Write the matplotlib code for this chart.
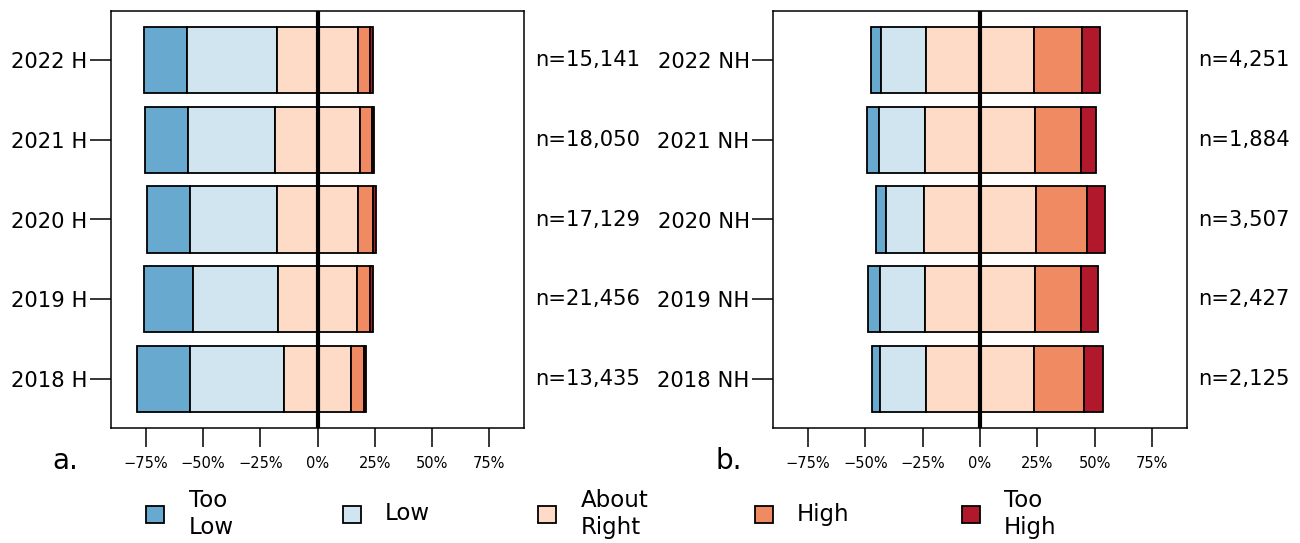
import matplotlib
matplotlib.use("Agg")
import matplotlib.pyplot as plt
from matplotlib.patches import Rectangle
from matplotlib.ticker import FuncFormatter

# Survey responses (percent of respondents), rows ordered top to bottom
years_h = ["2022 H", "2021 H", "2020 H", "2019 H", "2018 H"]
too_low_h = [19.1, 18.5, 18.7, 21.2, 23.1]
low_h = [39.3, 38.3, 37.9, 37.5, 41.3]
about_right_h = [35.1, 36.8, 35.6, 34.2, 29.1]
high_h = [5.5, 5.3, 6.6, 5.9, 5.6]
too_high_h = [1.1, 1.0, 1.0, 1.4, 1.1]
n_h = [15141, 18050, 17129, 21456, 13435]

years_nh = ["2022 NH", "2021 NH", "2020 NH", "2019 NH", "2018 NH"]
too_low_nh = [4.7, 5.3, 4.2, 5.5, 3.5]
low_nh = [19.5, 19.8, 16.6, 19.4, 20.0]
about_right_nh = [47.0, 48.4, 49.2, 48.2, 47.0]
high_nh = [20.8, 19.9, 22.0, 19.9, 21.9]
too_high_nh = [8.0, 6.5, 8.1, 7.3, 8.1]
n_nh = [4251, 1884, 3507, 2427, 2125]

categories = ["Too\nLow", "Low", "About\nRight", "High", "Too\nHigh"]
colors = ["#67A9CF", "#D1E5F0", "#FDDBC7", "#EF8A62", "#B2182B"]
x_ticks = [-0.75, -0.5, -0.25, 0, 0.25, 0.5, 0.75]

W, H = 1300, 543
fig = plt.figure(figsize=(W / 100, H / 100), dpi=100)


def diverging_panel(ax, labels, tl, lo, ar, hi, th, ns):
    nrow = len(labels)
    ypos = [nrow - 1 - i for i in range(nrow)]
    bh = 1 / 1.2
    for i, y in enumerate(ypos):
        half = ar[i] / 2
        start = -(tl[i] + lo[i] + half) / 100
        for v, c in zip([tl[i], lo[i], half], colors[:3]):
            ax.barh(y, v / 100, left=start, height=bh, color=c,
                    edgecolor="black", linewidth=1.3, zorder=2)
            start += v / 100
        start = 0.0
        for v, c in zip([half, hi[i], th[i]], colors[2:]):
            ax.barh(y, v / 100, left=start, height=bh, color=c,
                    edgecolor="black", linewidth=1.3, zorder=2)
            start += v / 100
        ax.text(1.027, y, f"n={ns[i]:,}", transform=ax.get_yaxis_transform(),
                ha="left", va="center", fontsize=15.2)
    ax.axvline(0, color="black", linewidth=3, zorder=3)
    ax.set_xlim(-0.902, 0.902)
    ax.set_ylim(-0.614, nrow - 1 + 0.614)
    ax.set_yticks(ypos)
    ax.set_yticklabels(labels, fontsize=15.2)
    ax.set_xticks(x_ticks)
    ax.xaxis.set_major_formatter(
        FuncFormatter(lambda v, p: f"{round(v * 100):d}%".replace("-", "\u2212")))
    ax.tick_params(axis="x", labelsize=10.5, length=14, width=1.1, pad=6)
    ax.tick_params(axis="y", length=15, width=1.1, pad=2)
    for s in ax.spines.values():
        s.set_linewidth(1.1)


ax_a = fig.add_axes([111 / W, 1 - 428 / H, 413 / W, 417 / H])
diverging_panel(ax_a, years_h, too_low_h, low_h, about_right_h, high_h,
                too_high_h, n_h)
ax_b = fig.add_axes([773.3 / W, 1 - 428 / H, 413.4 / W, 417 / H])
diverging_panel(ax_b, years_nh, too_low_nh, low_nh, about_right_nh, high_nh,
                too_high_nh, n_nh)

fig.text(52 / W, 1 - 469 / H, "a.", fontsize=20, ha="left", va="baseline")
fig.text(716 / W, 1 - 469 / H, "b.", fontsize=20, ha="left", va="baseline")

# Legend row along the bottom
key_x = [155, 352, 547, 764, 971]
text_x = [189, 385, 581, 797, 1004]
y_mid = 514
for kx, tx, lab, col in zip(key_x, text_x, categories, colors):
    fig.add_artist(Rectangle(((kx - 9) / W, 1 - (y_mid + 8.5) / H), 18 / W, 17 / H,
                             transform=fig.transFigure, facecolor=col,
                             edgecolor="black", linewidth=1.3))
    fig.text(tx / W, 1 - y_mid / H, lab, fontsize=16.5, ha="left",
             va="center", linespacing=1.25)

fig.savefig("out.png", dpi=100)
